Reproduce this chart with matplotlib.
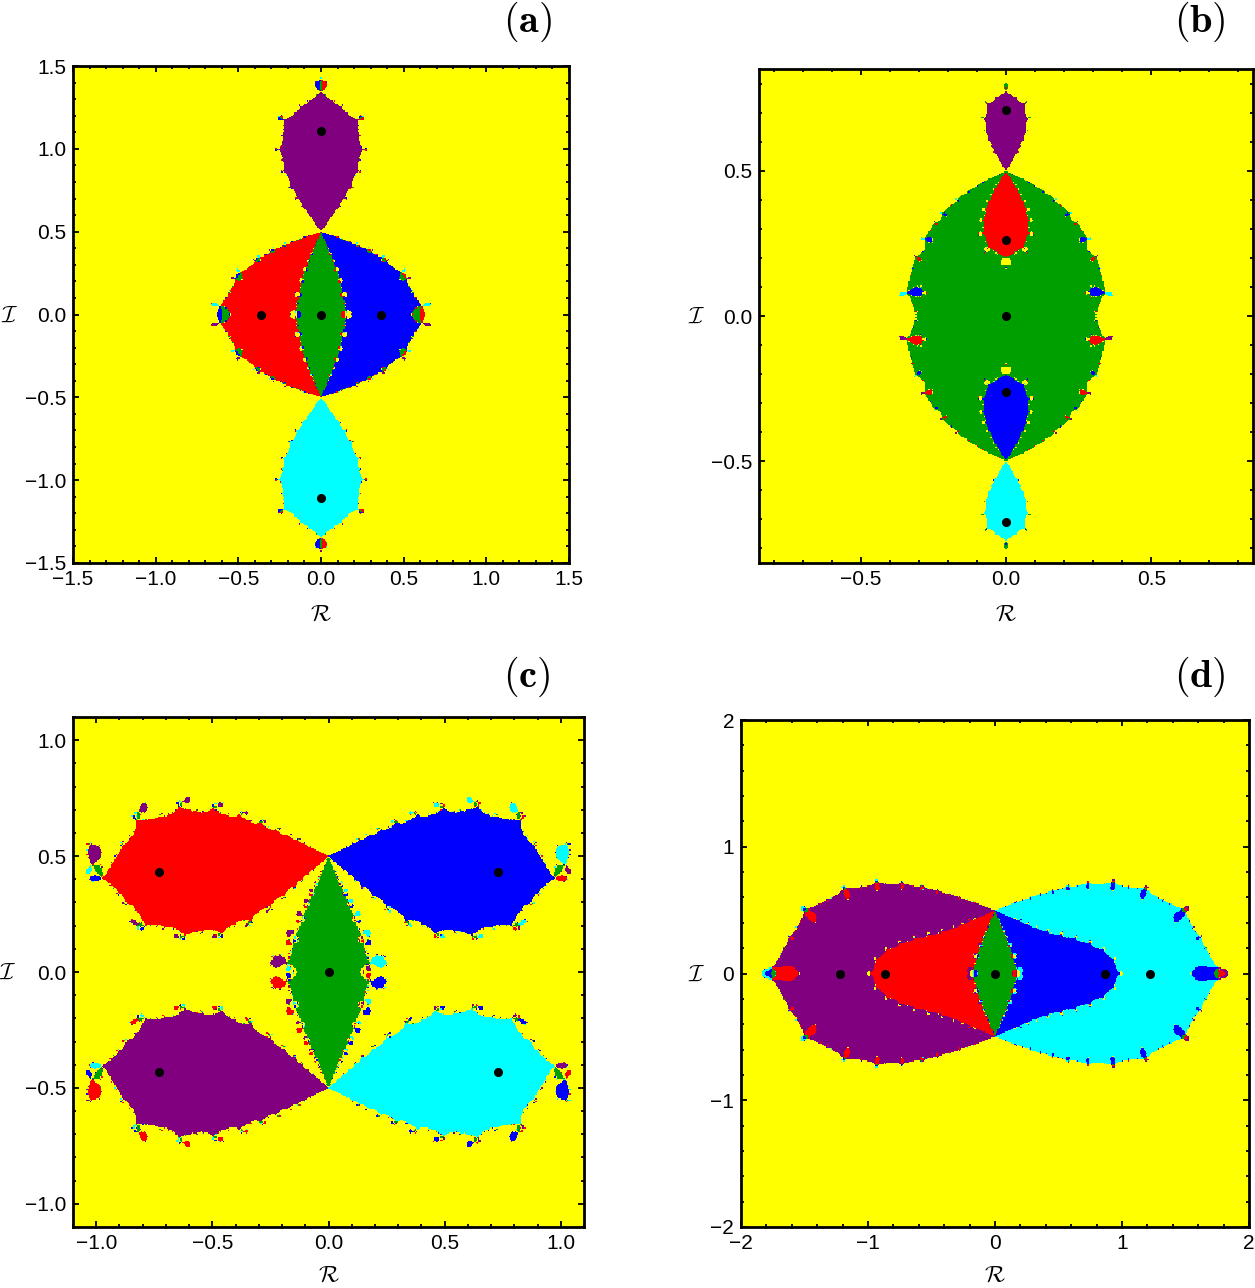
import numpy as np
import matplotlib
matplotlib.use("Agg")
import matplotlib.pyplot as plt
from matplotlib.colors import ListedColormap
from matplotlib.ticker import MultipleLocator, FuncFormatter

plt.rcParams["mathtext.fontset"] = "cm"

# ---------------- data ----------------
# equilibrium points (black dots) for each panel: real / imaginary parts
a_re = [0.0, -0.36, 0.36, 0.0, 0.0]
a_im = [0.0, 0.0, 0.0, 1.11, -1.11]
b_re = [0.0, 0.0, 0.0, 0.0, 0.0]
b_im = [0.0, 0.26, -0.26, 0.71, -0.71]
c_re = [0.0, -0.73, 0.73, -0.73, 0.73]
c_im = [0.0, 0.43, 0.43, -0.43, -0.43]
d_re = [0.0, -0.87, 0.87, -1.22, 1.22]
d_im = [0.0, 0.0, 0.0, 0.0, 0.0]
# basin colour of each point (same order as above)
a_col = ["green", "red", "blue", "purple", "cyan"]
b_col = ["green", "red", "blue", "purple", "cyan"]
c_col = ["green", "red", "blue", "purple", "cyan"]
d_col = ["green", "red", "blue", "purple", "cyan"]
# singular points (primaries) where the basins meet
prim_re = [0.0, 0.0]
prim_im = [0.5, -0.5]
# strength of the singularities per panel
a_k, b_k, c_k, d_k = 3.2, 3.6, 3.35, 3.55
# axis limits and tick steps
a_lim, b_lim, c_lim, d_lim = 1.5, 0.85, 1.1, 2.0
a_maj, b_maj, c_maj, d_maj = 0.5, 0.5, 0.5, 1.0
a_min, b_min, c_min, d_min = 0.1, 0.1, 0.1, 0.2
labels = ["(a)", "(b)", "(c)", "(d)"]

palette = {"yellow": "#ffff00", "green": "#009f00", "red": "#ff0000",
           "blue": "#0000ff", "purple": "#800080", "cyan": "#00ffff"}


def basins(re, im, k, lim, n=420, iters=80):
    roots = np.array(re) + 1j * np.array(im)
    prims = np.array(prim_re) + 1j * np.array(prim_im)
    x = np.linspace(-lim, lim, n)
    X, Y = np.meshgrid(x, x)
    z = (X + 1j * Y).ravel()
    idx = np.zeros(z.shape, dtype=int)
    active = np.ones(z.shape, dtype=bool)
    with np.errstate(all="ignore"):
        for _ in range(iters):
            w = z[active]
            L = np.zeros_like(w)
            for r in roots:
                L += 1.0 / (w - r)
            for p in prims:
                L -= k / (w - p)
            w = w - 1.0 / L
            z[active] = w
            bad = ~np.isfinite(w) | (np.abs(w) > 1e3)
            sub = np.zeros(w.shape, dtype=int)
            for j, r in enumerate(roots):
                sub[np.abs(w - r) < 1e-4] = j + 1
            aidx = np.flatnonzero(active)
            idx[aidx] = sub
            done = (sub > 0) | bad
            active[aidx[done]] = False
            if not active.any():
                break
    return idx.reshape(n, n)


def fmt(v, pos):
    return ("%.1f" % v).replace("-", "\u2212")


def fmt_int(v, pos):
    return ("%d" % round(v)).replace("-", "\u2212")


fig = plt.figure(figsize=(12.55, 12.88), dpi=100)
W, H = 1255.0, 1288.0
boxes = [(73, 66, 569, 563), (759, 69, 1253, 563),
         (73, 717, 584, 1227), (741, 720, 1249, 1227)]
panels = [(a_re, a_im, a_col, a_k, a_lim, a_maj, a_min),
          (b_re, b_im, b_col, b_k, b_lim, b_maj, b_min),
          (c_re, c_im, c_col, c_k, c_lim, c_maj, c_min),
          (d_re, d_im, d_col, d_k, d_lim, d_maj, d_min)]
label_pos = [(552, 22), (1226, 22), (550, 677), (1226, 677)]
ylab_x = [10, 697, 8, 697]
xlab_dy = [50, 50, 47, 47]

for i, ((l, t, r, b), (re, im, col, k, lim, maj, mnr), lab, lp) in enumerate(
        zip(boxes, panels, labels, label_pos)):
    ax = fig.add_axes([l / W, 1 - b / H, (r - l) / W, (b - t) / H])
    idx = basins(re, im, k, lim)
    cmap = ListedColormap([palette["yellow"]] + [palette[c] for c in col])
    ax.imshow(idx, origin="lower", extent=[-lim, lim, -lim, lim], cmap=cmap,
              vmin=-0.5, vmax=len(col) + 0.5, interpolation="nearest", aspect="auto")
    ax.plot(re, im, "o", color="black", ms=5.5)
    ax.set_xlim(-lim, lim)
    ax.set_ylim(-lim, lim)
    ax.xaxis.set_major_locator(MultipleLocator(maj))
    ax.yaxis.set_major_locator(MultipleLocator(maj))
    ax.xaxis.set_minor_locator(MultipleLocator(mnr))
    ax.yaxis.set_minor_locator(MultipleLocator(mnr))
    f = fmt if maj < 1 else fmt_int
    ax.xaxis.set_major_formatter(FuncFormatter(f))
    ax.yaxis.set_major_formatter(FuncFormatter(f))
    ax.tick_params(which="both", direction="in", top=True, right=True,
                   labelsize=15, width=1.3, pad=5)
    ax.tick_params(which="major", length=4)
    ax.tick_params(which="minor", length=2.5)
    for lbl in ax.get_xticklabels() + ax.get_yticklabels():
        lbl.set_fontfamily("Liberation Sans")
    for s in ax.spines.values():
        s.set_linewidth(2)
    ax.set_xlabel(r"$\mathcal{R}$", fontsize=17, va="center", ha="center")
    ax.set_ylabel(r"$\mathcal{I}$", fontsize=17, rotation=0, va="center", ha="center")
    ax.xaxis.set_label_coords(0.5, -xlab_dy[i] / (b - t))
    ax.yaxis.set_label_coords((ylab_x[i] - l) / (r - l), 0.5)
    fig.text(lp[0] / W, 1 - lp[1] / H, r"$\mathbf{" + lab + "}$", fontsize=29,
             ha="right", va="center")

fig.savefig("out.png", dpi=100)
